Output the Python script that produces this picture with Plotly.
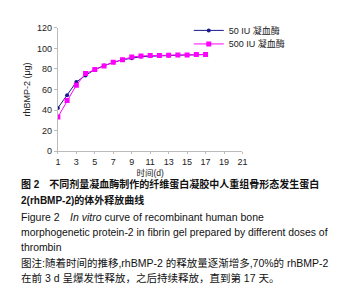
import plotly.graph_objects as go

days = list(range(1, 18))
iu50 = [42, 54.4, 67.3, 73.7, 79.4, 83.3, 86.5, 89, 90.3, 92, 92.3, 92.9, 93, 93.3, 93.5, 94, 94]
iu500 = [33.2, 49.4, 64.2, 75.6, 79.4, 82.9, 86.5, 89, 91.6, 92.6, 93, 93, 93.3, 93.6, 93.6, 94, 94]
x_ticks = [1, 3, 5, 7, 9, 11, 13, 15, 17, 19, 21]
y_ticks = [0, 20, 40, 60, 80, 100, 120]
series_names = ["50 IU 凝血酶", "500 IU 凝血酶"]

W, H = 344, 299
OFF = 8  # page body margin
FONT = "Liberation Sans, Arial, Noto Sans CJK SC"

fig = go.Figure()
fig.add_trace(go.Scatter(x=days, y=iu50, name=series_names[0], mode="lines+markers",
                         line=dict(color="#1a1a8c", width=1),
                         marker=dict(symbol="circle", size=4, color="#1a1a8c"),
                         legend="legend"))
fig.add_trace(go.Scatter(x=days, y=iu500, name=series_names[1], mode="lines+markers",
                         line=dict(color="#ff00ff", width=1),
                         marker=dict(symbol="square", size=5, color="#ff00ff"),
                         legend="legend2"))

def px(x): return (x - OFF) / W
def py(y): return 1 - (y - OFF) / H

leg_common = dict(xanchor="left", yanchor="middle", bgcolor="rgba(0,0,0,0)",
                  font=dict(size=9, color="#222"), itemwidth=30, borderwidth=0)

fig.update_layout(
    width=W, height=H, margin=dict(l=0, r=0, t=0, b=0),
    paper_bgcolor="white", plot_bgcolor="white",
    font=dict(family=FONT, size=9, color="#222"),
    showlegend=True,
    legend=dict(x=px(190), y=py(26), **leg_common),
    legend2=dict(x=px(190), y=py(40), **leg_common),
    xaxis=dict(domain=[px(56), px(245)], range=[1, 21], tickvals=x_ticks,
               showgrid=False, zeroline=False, showline=True, linecolor="#bbbbbb",
               linewidth=1, ticks="outside", ticklen=2, tickcolor="#bbbbbb",
               tickfont=dict(size=9, color="#222"),
               title=dict(text="时间(d)", font=dict(size=8.5, color="#222"), standoff=4)),
    yaxis=dict(domain=[py(151), py(23.3)], range=[0, 120], tickvals=y_ticks,
               showgrid=False, zeroline=False, showline=True, linecolor="#bbbbbb",
               linewidth=1, ticks="outside", ticklen=3, tickcolor="#bbbbbb",
               tickfont=dict(size=9, color="#222"),
               title=dict(text="rhBMP-2 (μg)", font=dict(size=9, color="#222"), standoff=4)),
)

caption = [
    ("<b>图 2　不同剂量凝血酶制作的纤维蛋白凝胶中人重组骨形态发生蛋白</b>", 185, 10.0),
    ("<b>2(rhBMP-2)的体外释放曲线</b>", 201, 10.0),
    ("Figure 2　<i>In vitro</i> curve of recombinant human bone", 219, 10.5),
    ("morphogenetic protein-2 in fibrin gel prepared by different doses of", 235, 10.4),
    ("thrombin", 251, 10.4),
    ("图注:随着时间的推移,rhBMP-2 的释放量逐渐增多,70%的 rhBMP-2", 267, 10.5),
    ("在前 3 d 呈爆发性释放，之后持续释放，直到第 17 天。", 282, 10.5),
]
for txt, y, fs in caption:
    fig.add_annotation(text=txt, x=px(16), y=py(y), xref="paper", yref="paper",
                       xanchor="left", yanchor="middle", showarrow=False,
                       font=dict(family=FONT, size=fs, color="#111"))

fig.write_html("out.html")
